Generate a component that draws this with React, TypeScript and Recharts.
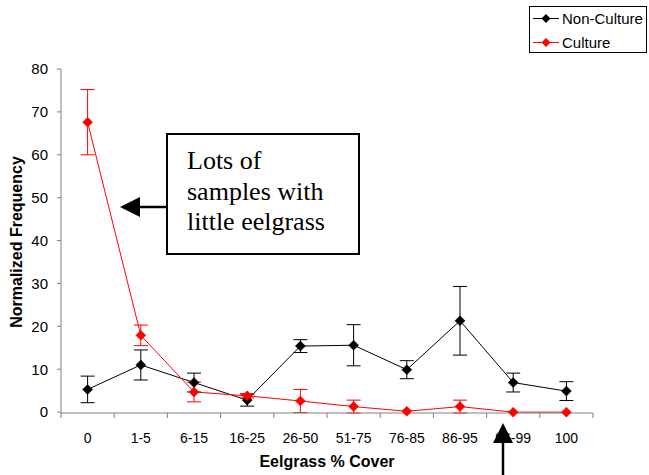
import React from 'react';
import { LineChart, Line, XAxis, YAxis, ErrorBar, Legend } from 'recharts';

const categories = ['0', '1-5', '6-15', '16-25', '26-50', '51-75', '76-85', '86-95', '96-99', '100'];
const nonCulture = [5.3, 11.0, 6.9, 2.8, 15.4, 15.6, 9.9, 21.3, 6.9, 4.9];
const nonCultureErr = [3.1, 3.5, 2.2, 1.4, 1.5, 4.8, 2.1, 8.0, 2.2, 2.2];
const culture = [67.6, 17.9, 4.7, 3.8, 2.6, 1.3, 0.2, 1.3, 0, 0];
const cultureErr = [7.6, 2.4, 2.3, 0.5, 2.7, 1.5, 0, 1.5, 0, 0];
const yTicks = [0, 10, 20, 30, 40, 50, 60, 70, 80];

const seriesNames = { nc: 'Non-Culture', cu: 'Culture' };
const annotationLines = ['Lots of', 'samples with', 'little eelgrass'];
const xTitle = 'Eelgrass % Cover';
const yTitle = 'Normalized Frequency';

const data = categories.map((c, i) => ({
  cat: c,
  nc: nonCulture[i],
  ncErr: nonCultureErr[i],
  cu: culture[i],
  cuErr: cultureErr[i],
}));

const W = 649;
const H = 475;
const MARGIN = { top: 69, right: 56, bottom: 0, left: 0 };
const Y_AXIS_W = 61;
const X_AXIS_H = 62;
const PLOT_W = W - MARGIN.left - MARGIN.right - Y_AXIS_W;
const BAND = PLOT_W / categories.length;
const X_TICK_SIZE = 5;
const X_TICK_MARGIN = 15;
const AXIS_COLOR = '#808080';
const FONT = '"Liberation Sans", Arial, sans-serif';

const makeDiamond = (color: string) => (props: any) => {
  const { cx, cy, index } = props;
  if (cx == null || cy == null) return <g key={`d-${index}`} />;
  const r = 5;
  return (
    <polygon
      key={`d-${color}-${index}`}
      points={`${cx},${cy - r} ${cx + r},${cy} ${cx},${cy + r} ${cx - r},${cy}`}
      fill={color}
      stroke={color}
      strokeWidth={0.5}
    />
  );
};

const XTick = (props: any) => {
  const { x, y, payload, index } = props;
  const axisY = y - X_TICK_SIZE - X_TICK_MARGIN;
  const isLast = index === categories.length - 1;
  return (
    <g>
      <line x1={x - BAND / 2} x2={x - BAND / 2} y1={axisY} y2={axisY + X_TICK_SIZE} stroke={AXIS_COLOR} strokeWidth={1} />
      {isLast && (
        <line x1={x + BAND / 2} x2={x + BAND / 2} y1={axisY} y2={axisY + X_TICK_SIZE} stroke={AXIS_COLOR} strokeWidth={1} />
      )}
      <text x={x} y={axisY + 30} textAnchor="middle" fontSize={14} fill="#000" fontFamily={FONT}>
        {payload.value}
      </text>
    </g>
  );
};

const LegendBox = (props: any) => {
  const items = [
    { name: seriesNames.nc, color: '#000000' },
    { name: seriesNames.cu, color: '#ff0000' },
  ];
  return (
    <svg width={119} height={48} style={{ display: 'block' }}>
      <rect x={0.5} y={0.5} width={117} height={46} fill="#fff" stroke="#000" strokeWidth={1} />
      {items.map((it, i) => {
        const cy = 12.5 + i * 24;
        return (
          <g key={it.name}>
            <line x1={4} x2={30} y1={cy} y2={cy} stroke={it.color} strokeWidth={1} />
            <polygon points={`17,${cy - 4.5} 21.5,${cy} 17,${cy + 4.5} 12.5,${cy}`} fill={it.color} />
            <text x={33} y={cy + 5} fontSize={15} fontFamily={FONT} fill="#000">
              {it.name}
            </text>
          </g>
        );
      })}
    </svg>
  );
};

export default function App() {
  return (
    <div style={{ position: 'absolute', left: 0, top: 0, width: W, height: H, background: '#fff', fontFamily: FONT }}>
      <LineChart width={W} height={H} data={data} margin={MARGIN}>
        <XAxis
          dataKey="cat"
          scale="band"
          interval={0}
          height={X_AXIS_H}
          axisLine={{ stroke: AXIS_COLOR, strokeWidth: 1 }}
          tickLine={false}
          tickSize={X_TICK_SIZE}
          tickMargin={X_TICK_MARGIN}
          tick={<XTick />}
        />
        <YAxis
          width={Y_AXIS_W}
          domain={[0, 80]}
          ticks={yTicks}
          interval={0}
          axisLine={{ stroke: AXIS_COLOR, strokeWidth: 1 }}
          tickLine={{ stroke: AXIS_COLOR, strokeWidth: 1 }}
          tickSize={4}
          tickMargin={9}
          tick={{ fontSize: 15, fill: '#000', fontFamily: FONT }}
        />
        <Legend
          layout="horizontal"
          align="center"
          verticalAlign="middle"
          wrapperStyle={{ left: 529, top: 6, width: 119, height: 48 }}
          content={<LegendBox />}
        />
        <Line
          dataKey="nc"
          name={seriesNames.nc}
          stroke="#000000"
          strokeWidth={1}
          dot={makeDiamond('#000000')}
          activeDot={false}
          isAnimationActive={false}
        >
          <ErrorBar dataKey="ncErr" width={7} stroke="#000000" strokeWidth={1} direction="y" isAnimationActive={false} />
        </Line>
        <Line
          dataKey="cu"
          name={seriesNames.cu}
          stroke="#ff0000"
          strokeWidth={1}
          dot={makeDiamond('#ff0000')}
          activeDot={false}
          isAnimationActive={false}
        >
          <ErrorBar dataKey="cuErr" width={7} stroke="#ff0000" strokeWidth={1} direction="y" isAnimationActive={false} />
        </Line>
      </LineChart>
      <svg
        width={W}
        height={H}
        style={{ position: 'absolute', left: 0, top: 0, pointerEvents: 'none' }}
      >
        <text
          x={22}
          y={242}
          transform="rotate(-90, 22, 242)"
          textAnchor="middle"
          fontSize={16}
          fontWeight="bold"
          fontFamily={FONT}
          fill="#000"
        >
          {yTitle}
        </text>
        <text x={327} y={467} textAnchor="middle" fontSize={16} fontWeight="bold" fontFamily={FONT} fill="#000">
          {xTitle}
        </text>
        <rect x={167} y={134} width={192} height={120} fill="#fff" stroke="#000" strokeWidth={2} />
        {annotationLines.map((t, i) => (
          <text
            key={t}
            x={187}
            y={169 + i * 30.5}
            fontSize={26}
            fontFamily='"Liberation Serif", "Times New Roman", serif'
            fill="#000"
          >
            {t}
          </text>
        ))}
        <line x1={167} y1={207} x2={138} y2={207} stroke="#000" strokeWidth={2.5} />
        <polygon points="120,207 140,197 140,217" fill="#000" />
        <line x1={503} y1={475} x2={503} y2={440} stroke="#000" strokeWidth={2.5} />
        <polygon points="503,423 493,443 513,443" fill="#000" />
      </svg>
    </div>
  );
}
